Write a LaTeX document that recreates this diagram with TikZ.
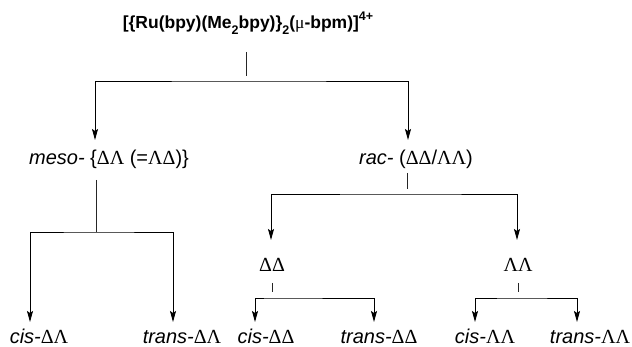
\documentclass[tikz,border=0pt]{standalone}
\usepackage{fontspec}
\setmainfont{Liberation Sans}
\newfontfamily\grk{Liberation Serif}
\usetikzlibrary{arrows.meta}
\newcommand{\lowtwo}{\raisebox{-0.3em}{\fontsize{12.5}{12.5}\selectfont 2}}
\newcommand{\highfour}{\raisebox{0.5em}{\fontsize{12.5}{12.5}\selectfont 4+}}
\newcommand{\gD}{{\grk Δ}}
\newcommand{\gL}{{\grk Λ}}
\begin{document}
\begin{tikzpicture}[x=1pt,y=-1pt,
  lbl/.style={inner sep=0pt,anchor=base,font=\fontsize{20}{22}\selectfont},
  ttl/.style={inner sep=0pt,anchor=base,font=\fontsize{17.5}{20}\selectfont\bfseries},
  ln/.style={line width=0.9pt,draw=black!85},
  tip/.style={Stealth[length=11pt,width=6pt,inset=2pt]},
  arr/.style={line width=0.9pt,{Stealth[length=11pt,width=6pt,inset=2pt]}-{Stealth[length=11pt,width=6pt,inset=2pt]}}
]
\useasboundingbox (0,0) rectangle (632,347);
% nodes
\node[ttl] (title) at (248,29) {[\{Ru(bpy)(Me\lowtwo bpy)\}\lowtwo({\grk\mdseries μ}-bpm)]\highfour};
\node[lbl] (meso) at (109,165) {\textit{meso-} \{\gD\gL{} (=\gL\gD)\}};
\node[lbl] (rac) at (416,165) {\textit{rac-} (\gD\gD/\gL\gL)};
\node[lbl] (dd) at (272,272) {\gD\gD};
\node[lbl] (ll) at (518,272) {\gL\gL};
\node[lbl] (c1) at (39,344) {\textit{cis-}\gD\gL};
\node[lbl] (t1) at (182,344) {\textit{trans-}\gD\gL};
\node[lbl] (c2) at (266,344) {\textit{cis-}\gD\gD};
\node[lbl] (t2) at (379,344) {\textit{trans-}\gD\gD};
\node[lbl] (c3) at (485,344) {\textit{cis-}\gL\gL};
\node[lbl] (t3) at (590,344) {\textit{trans-}\gL\gL};
% junction coordinates
\coordinate (k0a) at (246,52); \coordinate (k0b) at (246,76);
\coordinate (h0) at (246,81);
\coordinate (a0l) at (95,140); \coordinate (a0r) at (408,140);
\coordinate (k1a) at (96,180); \coordinate (h1) at (96,232);
\coordinate (a1l) at (30,322); \coordinate (a1r) at (173,322);
\coordinate (k2a) at (407,173); \coordinate (k2b) at (407,189);
\coordinate (h2) at (407,194);
\coordinate (a2l) at (271,240); \coordinate (a2r) at (517,240);
\coordinate (k3a) at (272,283); \coordinate (k3b) at (272,292);
\coordinate (h3) at (272,298);
\coordinate (a3l) at (255,322); \coordinate (a3r) at (374,322);
\coordinate (k4a) at (518,283); \coordinate (k4b) at (518,292);
\coordinate (h4) at (518,298);
\coordinate (a4l) at (475,322); \coordinate (a4r) at (577,322);
% connectors
\draw[ln] (k0a) -- (k0b);
\draw[arr] (a0l) |- (h0) -| (a0r);
\draw[ln] (k1a) -- (h1);
\draw[arr] (a1l) |- (h1) -| (a1r);
\draw[ln] (k2a) -- (k2b);
\draw[arr] (a2l) |- (h2) -| (a2r);
\draw[ln] (k3a) -- (k3b);
\draw[arr] (a3l) |- (h3) -| (a3r);
\draw[ln] (k4a) -- (k4b);
\draw[arr] (a4l) |- (h4) -| (a4r);
\end{tikzpicture}
\end{document}
